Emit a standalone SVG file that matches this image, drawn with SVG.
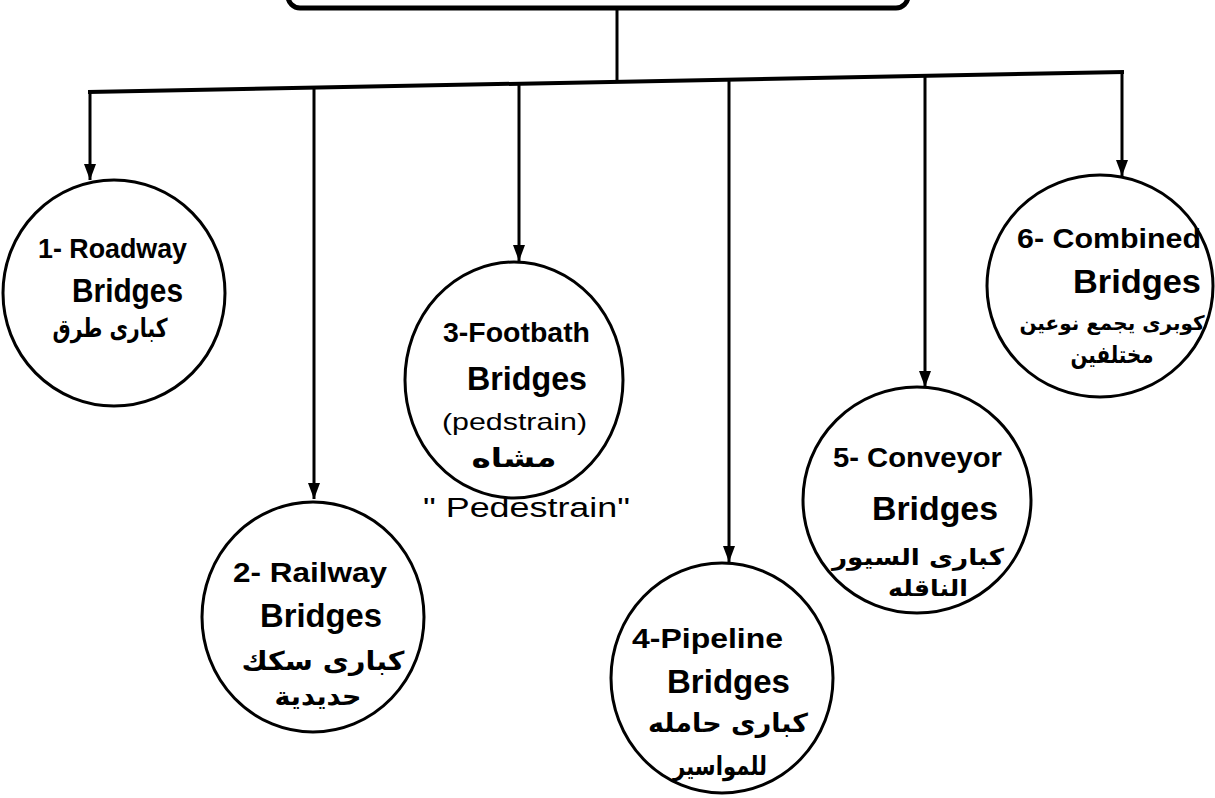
<svg xmlns="http://www.w3.org/2000/svg" width="1215" height="798" viewBox="0 0 1215 798">
<style>
.node{fill:#fff;stroke:#000;stroke-width:3}
.en{font-family:"Liberation Sans",Arial,sans-serif;font-weight:bold;fill:#000}
.thin{font-weight:normal}
.ar{font-family:"DejaVu Sans","Noto Sans",sans-serif;font-weight:bold;fill:#000;text-anchor:middle}
.conn{stroke:#000;stroke-width:3;fill:none}
</style>
<defs>
<marker id="arr" viewBox="0 -7 17 14" markerWidth="17" markerHeight="14" refX="16" refY="0" orient="auto" markerUnits="userSpaceOnUse">
<path d="M0,-6 L16,0 L0,6 z" fill="#000"/>
</marker>
</defs>
<rect width="1215" height="798" fill="#fff"/>
<g id="root">
<rect x="288" y="-80" width="620" height="88" rx="12" fill="#fff" stroke="#000" stroke-width="5"/>
</g>
<g id="connectors" class="conn">
<line x1="617" y1="8" x2="617" y2="82"/>
<line x1="88" y1="92" x2="1124" y2="72" stroke-width="4"/>
<line x1="90" y1="92" x2="90" y2="180" marker-end="url(#arr)"/>
<line x1="314" y1="88" x2="314" y2="499" marker-end="url(#arr)"/>
<line x1="519" y1="84" x2="519" y2="261" marker-end="url(#arr)"/>
<line x1="729" y1="80" x2="729" y2="562" marker-end="url(#arr)"/>
<line x1="925" y1="76" x2="925" y2="387" marker-end="url(#arr)"/>
<line x1="1122" y1="72" x2="1122" y2="176" marker-end="url(#arr)"/>
</g>
<g id="n1">
<ellipse class="node" cx="114" cy="293" rx="111" ry="113"/>
<text class="en" x="38" y="258" font-size="28" textLength="149" lengthAdjust="spacingAndGlyphs">1- Roadway</text>
<text class="en" x="72" y="302" font-size="33" textLength="111" lengthAdjust="spacingAndGlyphs">Bridges</text>
<text class="ar" x="110" y="337" font-size="26" textLength="115" lengthAdjust="spacingAndGlyphs">كبارى طرق</text>
</g>
<g id="n2">
<ellipse class="node" cx="313" cy="617" rx="111" ry="115"/>
<text class="en" x="233" y="582" font-size="28" textLength="154" lengthAdjust="spacingAndGlyphs">2- Railway</text>
<text class="en" x="260" y="627" font-size="33" textLength="122" lengthAdjust="spacingAndGlyphs">Bridges</text>
<text class="ar" x="323" y="670" font-size="26" textLength="163" lengthAdjust="spacingAndGlyphs">كبارى سكك</text>
<text class="ar" x="318" y="705" font-size="26" textLength="87" lengthAdjust="spacingAndGlyphs">حديدية</text>
</g>
<g id="n3">
<ellipse class="node" cx="514" cy="380" rx="109" ry="118"/>
<text class="en" x="443" y="342" font-size="28" textLength="147" lengthAdjust="spacingAndGlyphs">3-Footbath</text>
<text class="en" x="467" y="390" font-size="33" textLength="120" lengthAdjust="spacingAndGlyphs">Bridges</text>
<text class="en thin" x="442" y="430" font-size="24" textLength="145" lengthAdjust="spacingAndGlyphs">(pedstrain)</text>
<text class="ar" x="514" y="467" font-size="26" textLength="85" lengthAdjust="spacingAndGlyphs">مشاه</text>
<text class="en thin" x="423" y="517" font-size="27" textLength="207" lengthAdjust="spacingAndGlyphs">" Pedestrain"</text>
</g>
<g id="n4">
<ellipse class="node" cx="722" cy="678" rx="111" ry="115"/>
<text class="en" x="632" y="648" font-size="28" textLength="151" lengthAdjust="spacingAndGlyphs">4-Pipeline</text>
<text class="en" x="667" y="693" font-size="33" textLength="123" lengthAdjust="spacingAndGlyphs">Bridges</text>
<text class="ar" x="728" y="732" font-size="26" textLength="160" lengthAdjust="spacingAndGlyphs">كبارى حامله</text>
<text class="ar" x="720" y="775" font-size="26" textLength="94" lengthAdjust="spacingAndGlyphs">للمواسير</text>
</g>
<g id="n5">
<ellipse class="node" cx="917" cy="500" rx="114" ry="113"/>
<text class="en" x="833" y="467" font-size="28" textLength="169" lengthAdjust="spacingAndGlyphs">5- Conveyor</text>
<text class="en" x="872" y="520" font-size="33" textLength="126" lengthAdjust="spacingAndGlyphs">Bridges</text>
<text class="ar" x="918" y="565" font-size="23" textLength="172" lengthAdjust="spacingAndGlyphs">كبارى السيور</text>
<text class="ar" x="928" y="596" font-size="23" textLength="80" lengthAdjust="spacingAndGlyphs">الناقله</text>
</g>
<g id="n6">
<ellipse class="node" cx="1100" cy="286" rx="113" ry="111"/>
<text class="en" x="1017" y="248" font-size="28" textLength="184" lengthAdjust="spacingAndGlyphs">6- Combined</text>
<text class="en" x="1073" y="293" font-size="33" textLength="128" lengthAdjust="spacingAndGlyphs">Bridges</text>
<text class="ar" x="1112" y="330" font-size="20">كوبرى يجمع نوعين</text>
<text class="ar" x="1112" y="363" font-size="24" textLength="83" lengthAdjust="spacingAndGlyphs">مختلفين</text>
</g>
</svg>
